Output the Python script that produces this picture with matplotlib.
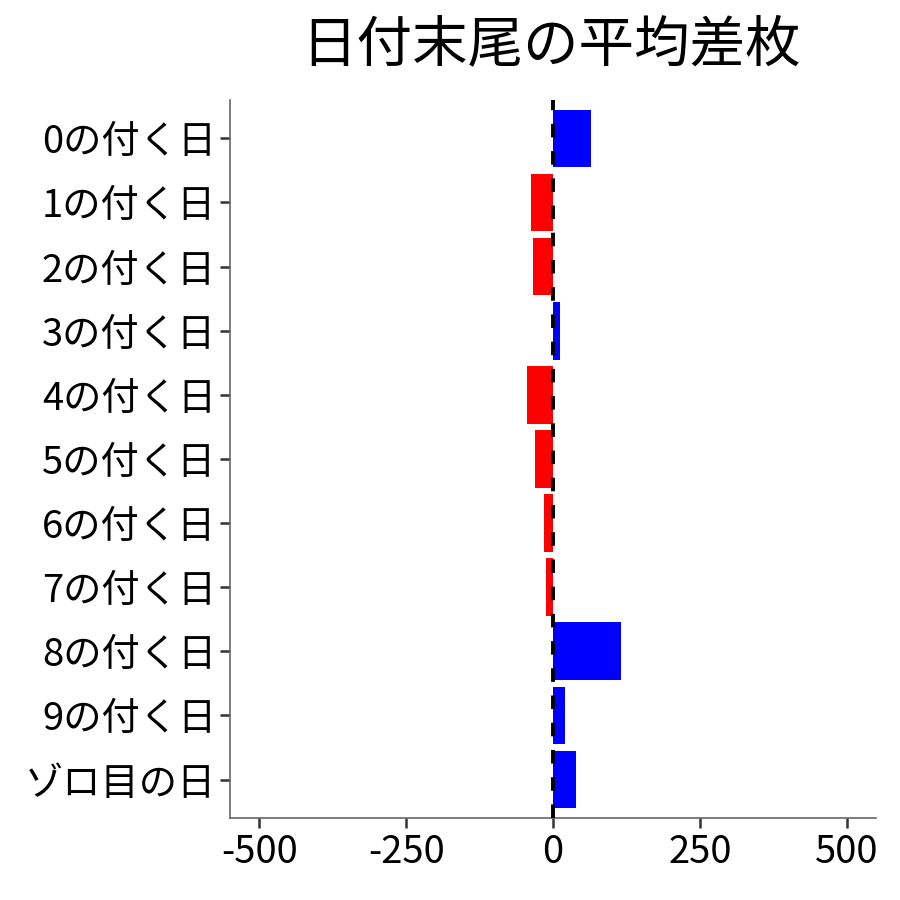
import matplotlib
matplotlib.use("Agg")
import matplotlib.pyplot as plt
import numpy as np

plt.rcParams['font.family'] = ['Noto Sans CJK JP', 'DejaVu Sans']

labels = ['0の付く日', '1の付く日', '2の付く日', '3の付く日', '4の付く日', '5の付く日',
          '6の付く日', '7の付く日', '8の付く日', '9の付く日', 'ゾロ目の日']
values = [64, -37, -34, 12, -44, -31, -15, -12, 115, 20, 40]
xticks = [-500, -250, 0, 250, 500]

fig = plt.figure(figsize=(9, 9), dpi=100)
ax = fig.add_axes([0.2556, 0.0911, 0.7177, 0.7979])

ypos = np.arange(len(labels))[::-1]
colors = ['blue' if v > 0 else 'red' for v in values]
ax.barh(ypos, values, height=0.9, color=colors, zorder=2)
ax.axvline(0, color='black', linestyle=(0, (3.5, 3.5)), linewidth=2.8, zorder=3)

ax.set_xlim(-550, 550)
ax.set_ylim(-0.6, len(labels) - 0.4)
ax.set_xticks(xticks)
ax.set_xticklabels([str(t) for t in xticks])
ax.set_yticks(ypos)
ax.set_yticklabels(labels)
ax.tick_params(axis='both', labelsize=27.5, length=7, width=1.8, color='#333333', labelcolor='black')
ax.tick_params(axis='x', pad=4)
ax.tick_params(axis='y', pad=3)
for s in ['top', 'right']:
    ax.spines[s].set_visible(False)
for s in ['left', 'bottom']:
    ax.spines[s].set_color('#666666')
    ax.spines[s].set_linewidth(1.2)

fig.text(0.612, 0.95, '日付末尾の平均差枚', ha='center', va='center', fontsize=40)

fig.savefig('out.png', dpi=100)
